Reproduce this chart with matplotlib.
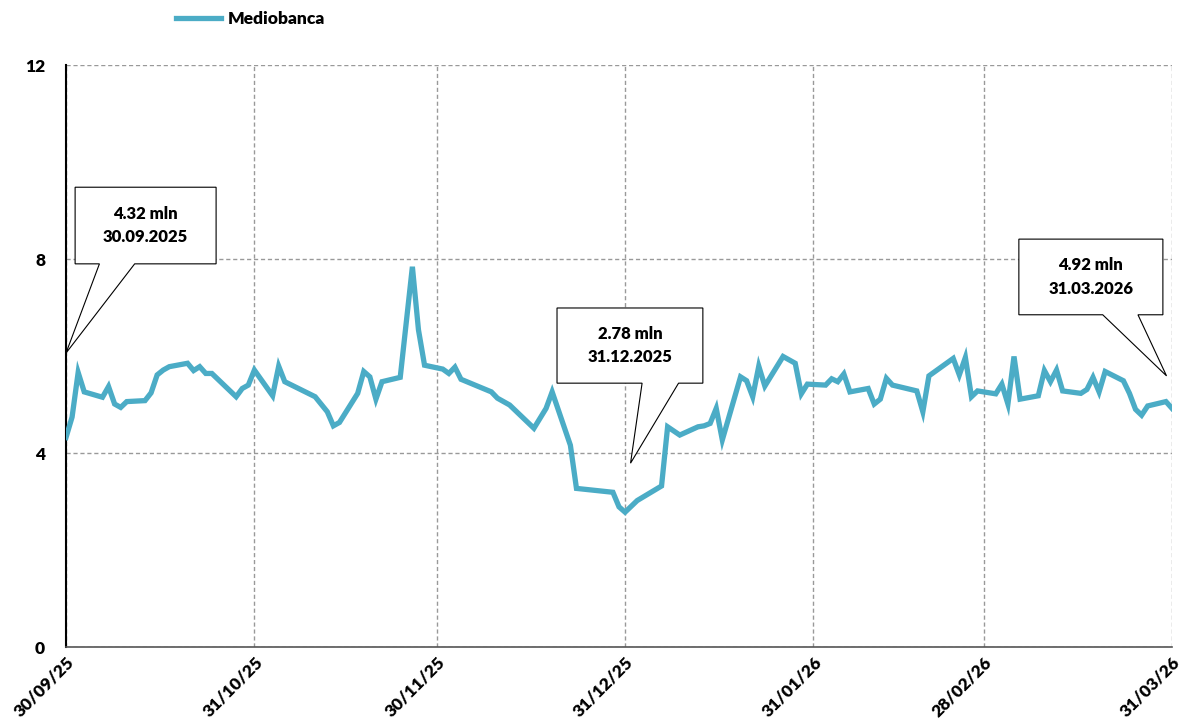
import numpy as np
import pandas as pd
import matplotlib
matplotlib.use("Agg")
import matplotlib.pyplot as plt
import matplotlib.dates as mdates
from matplotlib.patches import Polygon

plt.rcParams['font.family'] = ['Lato', 'DejaVu Sans']

# dati (mln)
dates = ["2025-09-30", "2025-10-01", "2025-10-02", "2025-10-03", "2025-10-06", "2025-10-07",
         "2025-10-08", "2025-10-09", "2025-10-10", "2025-10-13", "2025-10-14", "2025-10-15",
         "2025-10-16", "2025-10-17", "2025-10-20", "2025-10-21", "2025-10-22", "2025-10-23",
         "2025-10-24", "2025-10-28", "2025-10-29", "2025-10-30", "2025-10-31", "2025-11-03",
         "2025-11-04", "2025-11-05", "2025-11-10", "2025-11-12", "2025-11-13", "2025-11-14",
         "2025-11-17", "2025-11-18", "2025-11-19", "2025-11-20", "2025-11-21", "2025-11-24",
         "2025-11-26", "2025-11-27", "2025-11-28", "2025-12-01", "2025-12-02", "2025-12-03",
         "2025-12-04", "2025-12-09", "2025-12-10", "2025-12-12", "2025-12-16", "2025-12-18",
         "2025-12-19", "2025-12-22", "2025-12-23", "2025-12-29", "2025-12-30", "2025-12-31",
         "2026-01-02", "2026-01-06", "2026-01-07", "2026-01-09", "2026-01-12", "2026-01-13",
         "2026-01-14", "2026-01-15", "2026-01-16", "2026-01-19", "2026-01-20", "2026-01-21",
         "2026-01-22", "2026-01-23", "2026-01-26", "2026-01-28", "2026-01-29", "2026-01-30",
         "2026-02-02", "2026-02-03", "2026-02-04", "2026-02-05", "2026-02-06", "2026-02-09",
         "2026-02-10", "2026-02-11", "2026-02-12", "2026-02-13", "2026-02-17", "2026-02-18",
         "2026-02-19", "2026-02-23", "2026-02-24", "2026-02-25", "2026-02-26", "2026-02-27",
         "2026-03-02", "2026-03-03", "2026-03-04", "2026-03-05", "2026-03-06", "2026-03-09",
         "2026-03-10", "2026-03-11", "2026-03-12", "2026-03-13", "2026-03-16", "2026-03-17",
         "2026-03-18", "2026-03-19", "2026-03-20", "2026-03-23", "2026-03-24", "2026-03-25",
         "2026-03-26", "2026-03-27", "2026-03-30", "2026-03-31"]
values = [4.32, 4.74, 5.66, 5.26, 5.15, 5.37,
          5.01, 4.94, 5.06, 5.08, 5.24, 5.61,
          5.71, 5.78, 5.85, 5.70, 5.78, 5.64,
          5.64, 5.16, 5.33, 5.40, 5.71, 5.18,
          5.79, 5.47, 5.16, 4.85, 4.56, 4.63,
          5.23, 5.68, 5.57, 5.11, 5.47, 5.56,
          7.84, 6.54, 5.81, 5.73, 5.64, 5.77,
          5.52, 5.26, 5.13, 4.99, 4.51, 4.92,
          5.26, 4.16, 3.27, 3.19, 2.89, 2.78,
          3.02, 3.32, 4.54, 4.37, 4.54, 4.56,
          4.61, 4.92, 4.27, 5.57, 5.49, 5.16,
          5.79, 5.38, 5.99, 5.85, 5.22, 5.42,
          5.40, 5.53, 5.47, 5.63, 5.26, 5.33,
          5.01, 5.11, 5.54, 5.40, 5.28, 4.85,
          5.59, 5.95, 5.61, 5.97, 5.16, 5.28,
          5.22, 5.42, 5.01, 5.99, 5.11, 5.18,
          5.70, 5.47, 5.71, 5.28, 5.23, 5.31,
          5.56, 5.26, 5.68, 5.49, 5.23, 4.90,
          4.78, 4.97, 5.06, 4.92]

tick_dates = ["2025-09-30", "2025-10-31", "2025-11-30", "2025-12-31",
              "2026-01-31", "2026-02-28", "2026-03-31"]

# etichette: testo, box (giorno sx, giorno dx, y basso, y alto), base freccia (giorno), punta (giorno, y)
callouts = [
    ("4.32 mln\n30.09.2025", (1.5, 24.7, 7.90, 9.48), (5.5, 11.3), (0.0, 6.06)),
    ("2.78 mln\n31.12.2025", (80.8, 104.8, 5.44, 6.99), (94.8, 100.8), (92.9, 3.79)),
    ("4.92 mln\n31.03.2026", (156.8, 180.5, 6.85, 8.41), (170.6, 176.4), (181.1, 5.59)),
]

x = pd.to_datetime(dates)
start = pd.Timestamp("2025-09-30")
colore = '#4BACC6'

fig = plt.figure(figsize=(11.81, 7.26), dpi=100)
ax = fig.add_axes([66/1181, 1-647/726, (1172-66)/1181, (647-65)/726])

ax.plot(x, values, color=colore, lw=3.8, solid_joinstyle='miter', label='Mediobanca', zorder=3)

ax.set_ylim(0, 12)
ax.set_yticks([0, 4, 8, 12])
ax.set_xlim(start, pd.Timestamp("2026-03-31"))
ax.set_xticks(pd.to_datetime(tick_dates))
ax.xaxis.set_major_formatter(mdates.DateFormatter('%d/%m/%y'))
ax.grid(True, color='#999999', ls=(0, (3, 2)), lw=1)
ax.tick_params(length=0, labelsize=12.5)
ax.tick_params(axis='y', pad=15)
ax.tick_params(axis='x', pad=5)
for lab in ax.get_yticklabels():
    lab.set_fontweight('heavy')
for lab in ax.get_xticklabels():
    lab.set_fontweight('heavy')
    lab.set_rotation(45)
    lab.set_ha('right')
    lab.set_va('top')
    lab.set_rotation_mode('anchor')

for s in ['top', 'right']:
    ax.spines[s].set_visible(False)
ax.spines['left'].set_color('black')
ax.spines['left'].set_linewidth(1.5)
ax.spines['bottom'].set_color('#555555')
ax.spines['bottom'].set_linewidth(1.2)

# box con freccia
for testo, (x0, x1, y0, y1), (b0, b1), (tx, ty) in callouts:
    d = lambda g: mdates.date2num(start + pd.Timedelta(days=g))
    pts = [(d(x0), y0), (d(x0), y1), (d(x1), y1), (d(x1), y0),
           (d(b1), y0), (d(tx), ty), (d(b0), y0)]
    ax.add_patch(Polygon(pts, closed=True, facecolor='white', edgecolor='black',
                         lw=0.8, zorder=4))
    ax.text(d((x0 + x1) / 2), (y0 + y1) / 2, testo, ha='center', va='center',
            fontsize=12, fontweight='heavy', linespacing=1.6, zorder=5)

fig.legend(loc='center left', bbox_to_anchor=(176/1181, 1-19/726), frameon=False,
           handlelength=2.6, handletextpad=0.4, borderpad=0, borderaxespad=0,
           prop={'weight': 'heavy', 'size': 12.5})

fig.savefig('out.png', dpi=100)
